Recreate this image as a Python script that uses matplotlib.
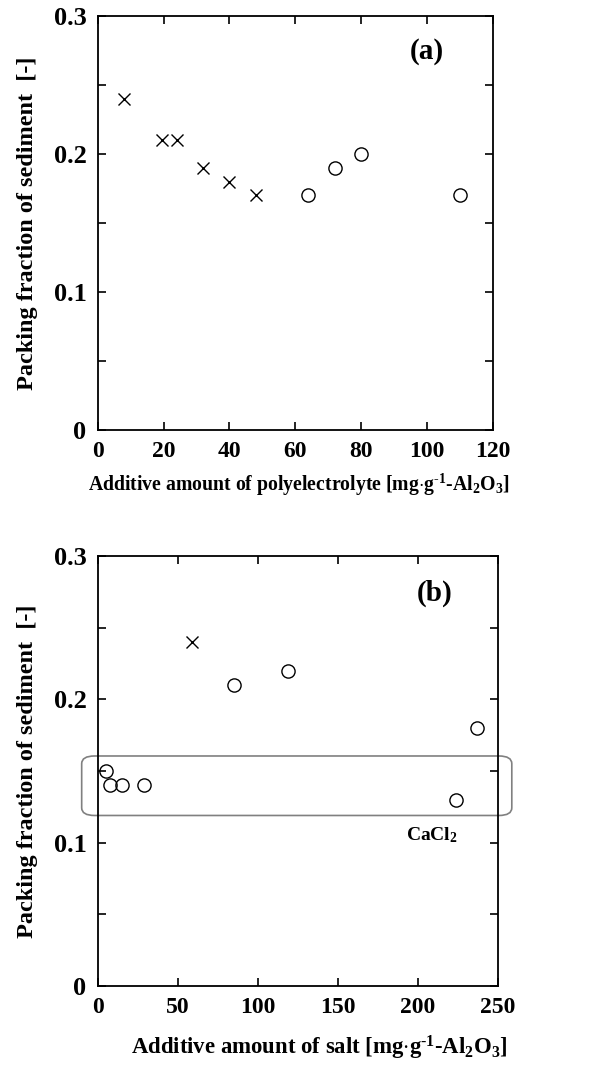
import numpy as np
import matplotlib
matplotlib.use('Agg')
import matplotlib.pyplot as plt
from matplotlib.patches import FancyBboxPatch

plt.rcParams['font.family'] = 'Liberation Serif'
plt.rcParams['font.weight'] = 'bold'
plt.rcParams['axes.labelweight'] = 'bold'
plt.rcParams['mathtext.fontset'] = 'custom'
plt.rcParams['mathtext.rm'] = 'Liberation Serif:bold'
plt.rcParams['mathtext.it'] = 'Liberation Serif:bold'
plt.rcParams['mathtext.bf'] = 'Liberation Serif:bold'

# (a) polyelectrolyte
poly_x_cross = [8, 19.5, 24, 32, 40, 48]
poly_y_cross = [0.24, 0.21, 0.21, 0.19, 0.18, 0.17]
poly_x_circ = [64, 72, 80, 110]
poly_y_circ = [0.17, 0.19, 0.20, 0.17]

# (b) salt
salt_x_cross = [59]
salt_y_cross = [0.24]
salt_x_circ = [5, 8, 15, 29, 85, 119, 224, 237]
salt_y_circ = [0.15, 0.14, 0.14, 0.14, 0.21, 0.22, 0.13, 0.18]

ylabel = 'Packing fraction of sediment  [-]'
unit = r'[mg$\cdot$g$^{\text{-1}}$-Al$_{2}$O$_{3}$]'

fig = plt.figure(figsize=(6.09, 10.66), dpi=100)
ax1 = fig.add_axes([0.1604, 0.5966, 0.649, 0.3884])
ax2 = fig.add_axes([0.1604, 0.075, 0.657, 0.4034])

def style(ax, xmax, xstep):
    ax.set_xlim(0, xmax)
    ax.set_ylim(0, 0.3)
    ax.set_xticks(np.arange(0, xmax + 1, xstep))
    ax.set_yticks([0, 0.1, 0.2, 0.3])
    ax.set_yticklabels(['0', '0.1', '0.2', '0.3'])
    ax.set_yticks([0.05, 0.15, 0.25], minor=True)
    ax.tick_params(which='both', direction='in', top=True, right=True, width=1.2)
    ax.tick_params(axis='y', labelsize=19)
    ax.tick_params(axis='x', labelsize=17)
    ax.tick_params(which='major', length=6, pad=8)
    ax.tick_params(which='minor', length=6)
    for s in ax.spines.values():
        s.set_linewidth(1.3)
    ax.set_ylabel(ylabel, fontsize=17.5)

style(ax1, 120, 20)
ax1.yaxis.set_label_coords(-0.151, 0.5)
ax1.plot(poly_x_cross, poly_y_cross, 'x', color='black', ms=8.5, mew=1.0)
ax1.plot(poly_x_circ, poly_y_circ, 'o', mfc='none', mec='black', ms=9.5, mew=1.0)
ax1.set_xlabel('Additive amount of polyelectrolyte ' + unit, fontsize=14.2)
ax1.xaxis.set_label_coords(0.51, -0.1)
ax1.text(100, 0.274, '(a)', fontsize=21, ha='center', va='center')

style(ax2, 250, 50)
ax2.yaxis.set_label_coords(-0.149, 0.5)
ax2.plot(salt_x_cross, salt_y_cross, 'x', color='black', ms=8.5, mew=1.0)
ax2.plot(salt_x_circ, salt_y_circ, 'o', mfc='none', mec='black', ms=9.5, mew=1.0)
ax2.set_xlabel('Additive amount of salt ' + unit, fontsize=16.4)
ax2.xaxis.set_label_coords(0.553, -0.112)
ax2.text(210.8, 0.274, '(b)', fontsize=21, ha='center', va='center')
ax2.text(208.5, 0.105, r'CaCl$_{2}$', fontsize=14, ha='center', va='center')

box = FancyBboxPatch((-10, 0.119), 268.75, 0.0415,
                     boxstyle='round,pad=0,rounding_size=8',
                     mutation_aspect=0.0415 / 60 * 1.6 * 0.6,
                     fc='none', ec='gray', lw=1.2, clip_on=False)
ax2.add_patch(box)

fig.savefig('out.png', dpi=100)
